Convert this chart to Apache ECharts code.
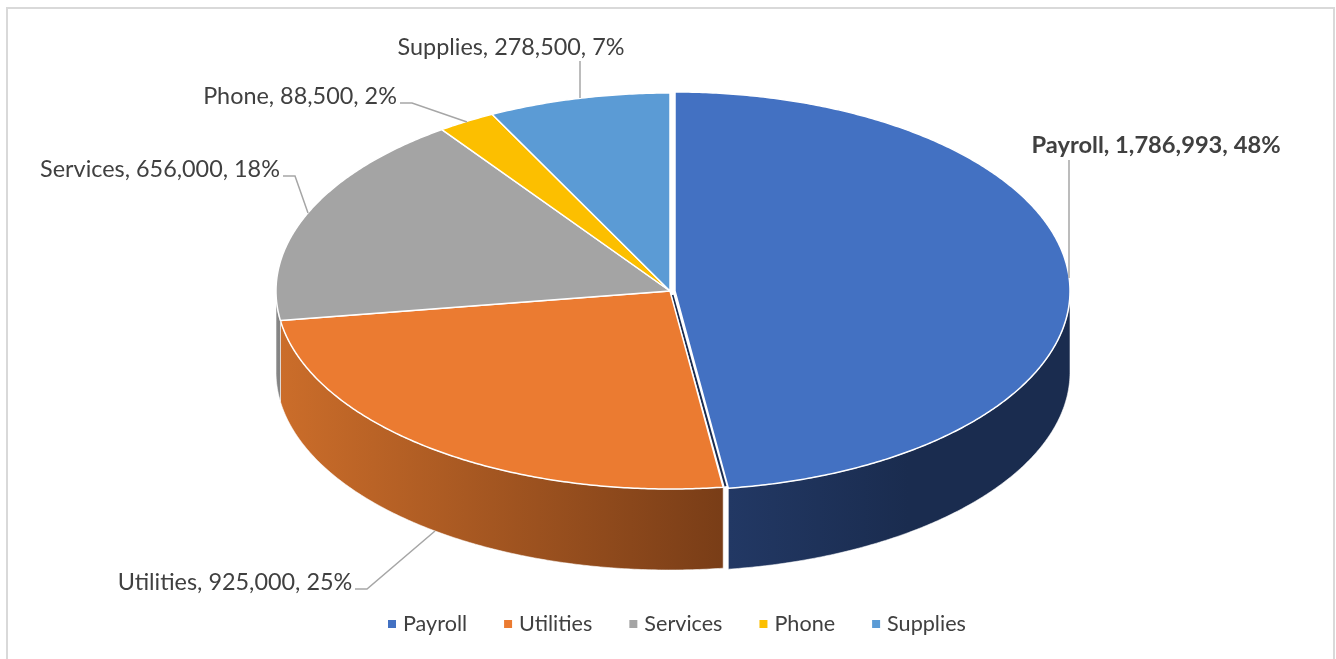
<!DOCTYPE html>
<html>
<head>
<meta charset="utf-8">
<title>Expenses</title>
<style>html,body{margin:0;padding:0;background:#fff}#chart{width:1336px;height:659px}</style>
<script src="https://cdn.jsdelivr.net/npm/echarts@6/dist/echarts.min.js"></script>
</head>
<body>
<div id="chart"></div>
<script>
// Expense breakdown
const categories = ['Payroll', 'Utilities', 'Services', 'Phone', 'Supplies'];
const amounts = [1786993, 925000, 656000, 88500, 278500];
const topColors = ['#4371C2', '#EB7B31', '#A4A4A4', '#FCBF00', '#5B9BD5'];
const wallStart = ['#223864', '#CB6D2A', '#8A8A8A', '#997300', '#2E75B6'];
const wallEnd = ['#1A2C4F', '#793D17', '#7F7F7F', '#997300', '#2E75B6'];

// Geometry of the tilted disc: each slice is an ellipse sector with a wall below it
const discCenter = { x: 670, y: 291 };
const discRadius = { x: 394, y: 198 };
const wallDepth = 81;
const explode = [5, 0, 0, 0, 0];

// Where each data label sits, and the leader line running to its slice
const labelAnchors = [
  { x: 1156, y: 145, bold: true, leader: [[1069, 160], [1069, 278]] },
  { x: 235, y: 582, leader: [[355, 589], [367, 589], [435, 531]] },
  { x: 160, y: 169, leader: [[283, 176], [295, 176], [308, 213]] },
  { x: 300, y: 96, leader: [[400, 103], [412, 103], [467, 122]] },
  { x: 511, y: 47, leader: [[580, 61], [580, 98]] }
];

const fontFamily = 'Lato, "Open Sans", sans-serif';
const total = amounts.reduce((a, b) => a + b, 0);
const toRad = (d) => d * Math.PI / 180;

// Angles run clockwise from twelve o'clock, as on a clock face
const sliceStart = amounts.map((_, i) =>
  amounts.slice(0, i).reduce((a, b) => a + b, 0) / total * 360);

function rimPoint(i, deg, dy) {
  const rx = discRadius.x + (explode[i] ? 1 : 0);
  const ry = discRadius.y + (explode[i] ? 1 : 0);
  return [
    discCenter.x + explode[i] + rx * Math.sin(toRad(deg)),
    discCenter.y + ry * -Math.cos(toRad(deg)) + dy
  ];
}

function arcPoints(i, from, to, dy) {
  const pts = [];
  const steps = Math.max(2, Math.ceil(Math.abs(to - from) * 2));
  for (let s = 0; s <= steps; s++) pts.push(rimPoint(i, from + (to - from) * s / steps, dy));
  return pts;
}

function renderSlice(i, api) {
  const share = api.value(0) / total * 360;
  const a0 = sliceStart[i];
  const a1 = a0 + share;
  const children = [];
  const cx = discCenter.x + explode[i];

  // Only the front half of the rim (90 to 270 degrees) shows a wall
  const w0 = Math.max(a0, 90);
  const w1 = Math.min(a1, 270);
  if (w1 > w0) {
    const upper = arcPoints(i, w0, w1, 0);
    const lower = arcPoints(i, w1, w0, wallDepth);
    const xs = upper.map((p) => p[0]);
    const left = Math.min(...xs);
    // The dark payroll wall settles to its flat shade soon after the cut
    const right = i === 0 ? left + 180 : Math.max(...xs);
    const fill = new echarts.graphic.LinearGradient(left, 0, right, 0, [
      { offset: 0, color: wallStart[i] },
      { offset: 1, color: wallEnd[i] }
    ], true);
    children.push({
      type: 'polygon',
      shape: { points: upper.concat(lower) },
      style: { fill, stroke: 'rgba(255,255,255,0.7)', lineWidth: 0.8 }
    });
  }

  // Top face of the slice
  children.push({
    type: 'polygon',
    shape: { points: [[cx, discCenter.y]].concat(arcPoints(i, a0, a1, 0)) },
    style: { fill: topColors[i], stroke: '#fff', lineWidth: 1.5, lineJoin: 'round' }
  });

  // Inner wall glimpsed through the gap of the pulled-out slice
  if (explode[i]) {
    const rim = rimPoint(i, a1, 0);
    children.push({
      type: 'line',
      shape: {
        x1: cx - explode[i] / 2, y1: discCenter.y + 4,
        x2: rim[0] - explode[i] / 2 - 0.3, y2: rim[1] - 2
      },
      style: { stroke: wallEnd[i], lineWidth: 2 }
    });
  }

  // Leader line and data label
  const anchor = labelAnchors[i];
  children.push({
    type: 'polyline',
    shape: { points: anchor.leader },
    style: { fill: null, stroke: '#A6A6A6', lineWidth: 1.5 }
  });
  children.push({
    type: 'text',
    x: anchor.x,
    y: anchor.y,
    style: {
      text: categories[i] + ', ' + api.value(0).toLocaleString('en-US') + ', ' +
        Math.round(api.value(0) / total * 100) + '%',
      font: (anchor.bold ? 'bold 23.7px ' : '23.4px ') + fontFamily,
      fill: '#404040',
      align: 'center',
      verticalAlign: 'middle'
    }
  });
  return { type: 'group', children };
}

const chart = echarts.init(document.getElementById('chart'), null, { renderer: 'canvas' });
chart.setOption({
  animation: false,
  color: topColors,
  backgroundColor: '#fff',
  graphic: [{
    type: 'rect',
    silent: true,
    shape: { x: 7, y: 8, width: 1327, height: 660 },
    style: { fill: 'none', stroke: '#D9D9D9', lineWidth: 2 }
  }],
  legend: {
    data: categories,
    left: 383,
    top: 608,
    itemWidth: 8,
    itemHeight: 8,
    itemGap: 37,
    icon: 'rect',
    textStyle: { fontFamily, fontSize: 21.6, color: '#404040', padding: [0, 0, 0, 2] }
  },
  series: categories.map((name, i) => ({
    type: 'custom',
    name,
    coordinateSystem: 'none',
    silent: true,
    data: [amounts[i]],
    renderItem: (params, api) => renderSlice(i, api)
  }))
});
</script>
</body>
</html>
